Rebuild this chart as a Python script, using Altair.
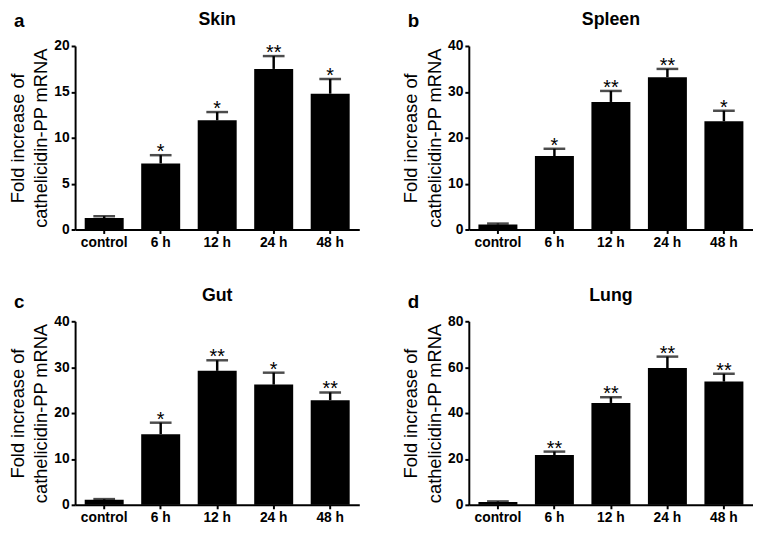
import altair as alt
import pandas as pd

categories = ["control", "6 h", "12 h", "24 h", "48 h"]

skin_mean = [1.25, 7.2, 11.9, 17.5, 14.8]
skin_err = [0.2, 0.9, 0.9, 1.4, 1.6]
skin_sig = ["", "*", "*", "**", "*"]
skin_ticks = [0, 5, 10, 15, 20]

spleen_mean = [1.1, 16.0, 27.8, 33.2, 23.6]
spleen_err = [0.2, 1.6, 2.4, 1.8, 2.3]
spleen_sig = ["", "*", "**", "**", "*"]
spleen_ticks = [0, 10, 20, 30, 40]

gut_mean = [1.1, 15.4, 29.2, 26.2, 22.8]
gut_err = [0.15, 2.5, 2.3, 2.6, 1.7]
gut_sig = ["", "*", "**", "*", "**"]
gut_ticks = [0, 10, 20, 30, 40]

lung_mean = [1.2, 21.7, 44.4, 59.6, 53.7]
lung_err = [0.3, 1.5, 2.5, 5.0, 3.4]
lung_sig = ["", "**", "**", "**", "**"]
lung_ticks = [0, 20, 40, 60, 80]

y_title = ["Fold increase of", "cathelicidin-PP mRNA"]

FONT = "Liberation Sans"
W = 288
H = 186


def panel(letter, title, means, errs, sigs, ticks, letter_y):
    df = pd.DataFrame({
        "cat": categories,
        "mean": means,
        "upper": [m + e for m, e in zip(means, errs)],
        "sig": sigs,
    })
    ymax = ticks[-1]
    yscale = alt.Scale(domain=[0, ymax], nice=False, zero=True)
    x = alt.X(
        "cat:N",
        sort=categories,
        scale=alt.Scale(paddingInner=0.31, paddingOuter=0.17),
        axis=alt.Axis(
            title=None, labelAngle=0, labelFontSize=14, labelFontWeight="bold",
            labelPadding=2, tickSize=4,
        ),
    )
    base = alt.Chart(df)
    bars = base.mark_bar(color="black").encode(
        x=x,
        y=alt.Y(
            "mean:Q",
            scale=yscale,
            axis=alt.Axis(
                values=ticks, title=y_title, titleFontSize=18.5,
                titleFontWeight="normal", titleLineHeight=24, titlePadding=3,
                labelFontSize=14, labelFontWeight="bold", labelPadding=2,
                tickSize=4,
            ),
        ),
    )
    rule = base.mark_rule(color="black", strokeWidth=2.5).encode(
        x=x,
        y=alt.Y("mean:Q", scale=yscale),
        y2="upper:Q",
    )
    cap = base.mark_tick(color="black", thickness=2.5, size=22).encode(
        x=x,
        y=alt.Y("upper:Q", scale=yscale),
    )
    stars = base.mark_text(
        fontSize=20, baseline="alphabetic", dy=3, color="black", font=FONT
    ).encode(
        x=x,
        y=alt.Y("upper:Q", scale=yscale),
        text="sig:N",
    )
    ttl = alt.Chart(pd.DataFrame({"t": [title]})).mark_text(
        fontSize=18, fontWeight="bold", align="center", baseline="alphabetic",
        color="black", font=FONT,
    ).encode(x=alt.value(W / 2), y=alt.value(-21), text="t:N")
    let = alt.Chart(pd.DataFrame({"t": [letter]})).mark_text(
        fontSize=19, fontWeight="bold", align="left", baseline="alphabetic",
        color="black", font=FONT,
    ).encode(x=alt.value(-62), y=alt.value(letter_y), text="t:N")
    return alt.layer(bars, rule, cap, stars, ttl, let).properties(width=W, height=H)


a = panel("a", "Skin", skin_mean, skin_err, skin_sig, skin_ticks, -19)
b = panel("b", "Spleen", spleen_mean, spleen_err, spleen_sig, spleen_ticks, -19)
c = panel("c", "Gut", gut_mean, gut_err, gut_sig, gut_ticks, -13)
d = panel("d", "Lung", lung_mean, lung_err, lung_sig, lung_ticks, -13)

chart = alt.concat(a, b, c, d, columns=2, spacing={"row": 38, "column": 43}).properties(
    padding=0
).configure_view(stroke=None).configure_axis(
    grid=False, domainColor="black", tickColor="black", labelColor="black",
    titleColor="black", domainWidth=2, tickWidth=2, labelFont=FONT, titleFont=FONT,
).configure_text(font=FONT)

chart.save("out.html", embed_options={"renderer": "svg", "actions": False})
